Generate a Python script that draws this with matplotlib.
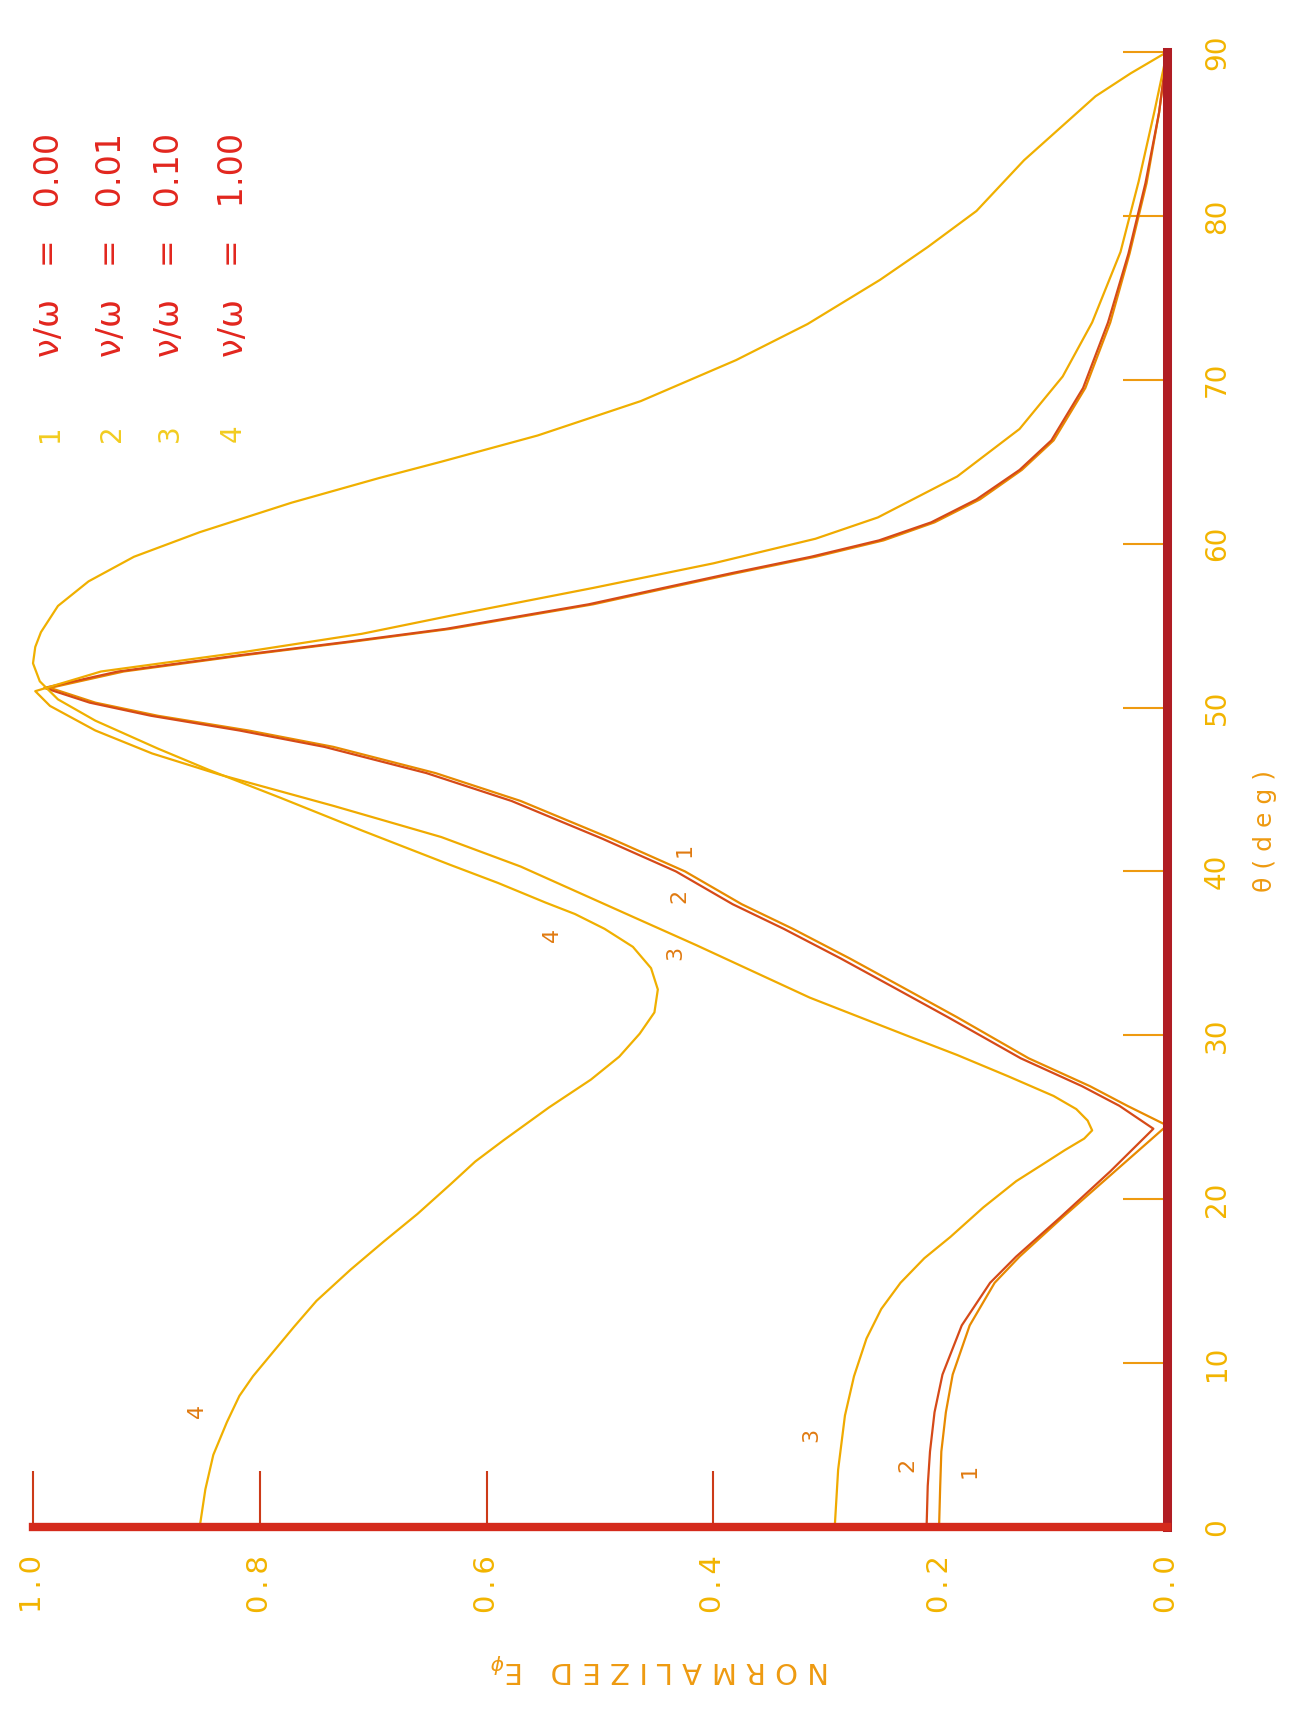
import matplotlib.pyplot as plt

# curvas: theta (deg) y E normalizado
theta_1 = [0, 2.5, 4.6, 7.0, 9.3, 12.3, 14.9, 16.5, 18.9, 21.7, 24.5, 25.7, 26.9, 28.6, 31.1,
           33.0, 34.7, 36.5, 38.0, 40.0, 42.0, 44.3, 46.0, 47.6, 48.6, 49.5, 50.3, 51.2, 52.2, 53.2,
           54.0, 54.8, 56.3, 57.3, 58.2, 59.2, 60.2, 61.3, 62.7, 64.5, 66.3, 69.5, 73.5, 77.7, 82.0,
           86.3, 90.0]
e_1 = [0.201, 0.2, 0.199, 0.195, 0.189, 0.174, 0.152, 0.13, 0.092, 0.046, 0.0, 0.035, 0.068, 0.122, 0.185,
       0.235, 0.28, 0.33, 0.375, 0.425, 0.49, 0.57, 0.645, 0.735, 0.81, 0.89, 0.945, 0.985, 0.92, 0.813,
       0.72, 0.632, 0.506, 0.44, 0.38, 0.31, 0.25, 0.205, 0.165, 0.128, 0.1, 0.072, 0.05, 0.033, 0.018,
       0.007, 0.0]

theta_2 = [0, 2.5, 4.6, 7.0, 9.3, 12.3, 14.9, 16.5, 18.9, 21.7, 24.3, 25.7, 26.9, 28.6, 31.1,
           33.0, 34.7, 36.5, 38.0, 40.0, 42.0, 44.3, 46.0, 47.6, 48.6, 49.5, 50.3, 51.2, 52.2, 53.2,
           54.0, 54.8, 56.3, 57.3, 58.2, 59.2, 60.2, 61.3, 62.7, 64.5, 66.3, 69.5, 73.5, 77.7, 82.0,
           86.3, 90.0]
e_2 = [0.212, 0.211, 0.209, 0.205, 0.198, 0.181, 0.156, 0.133, 0.094, 0.05, 0.012, 0.042, 0.075, 0.129, 0.193,
       0.243, 0.288, 0.338, 0.383, 0.433, 0.498, 0.578, 0.653, 0.743, 0.818, 0.896, 0.95, 0.99, 0.925, 0.817,
       0.724, 0.636, 0.51, 0.444, 0.384, 0.314, 0.254, 0.208, 0.168, 0.13, 0.102, 0.074, 0.052, 0.034, 0.019,
       0.007, 0.0]

theta_3 = [0, 3.5, 6.8, 9.2, 11.5, 13.3, 14.9, 16.4, 17.7, 19.5, 21.1, 22.2, 23.0, 23.7, 24.2, 24.8,
           25.5, 26.3, 27.5, 28.8, 30.0, 32.3, 35.5, 37.2, 40.3, 42.1, 44.0, 45.9, 47.2, 48.6, 50.1, 51.0,
           52.2, 53.4, 54.5, 55.6, 57.3, 58.8, 60.3, 61.6, 64.1, 67.0, 70.2, 73.5, 77.8, 82.1, 86.4, 90.0]
e_3 = [0.293, 0.29, 0.284, 0.276, 0.265, 0.252, 0.235, 0.214, 0.191, 0.162, 0.133, 0.108, 0.09, 0.073, 0.066, 0.07,
       0.08, 0.1, 0.14, 0.185, 0.23, 0.315, 0.415, 0.47, 0.57, 0.64, 0.735, 0.835, 0.895, 0.945, 0.985, 0.998,
       0.94, 0.813, 0.71, 0.632, 0.506, 0.40, 0.31, 0.255, 0.185, 0.13, 0.092, 0.066, 0.041, 0.025, 0.011, 0.0]

theta_4 = [0, 2.3, 4.4, 6.4, 8.0, 9.2, 10.7, 12.2, 13.8, 15.7, 17.4, 19.1, 20.9, 22.3, 23.6, 25.6, 27.3,
           28.7, 30.1, 31.4, 32.8, 34.1, 35.4, 36.5, 37.4, 38.1, 39.3, 40.4, 42.5, 44.5, 46.2, 47.5, 49.2,
           50.5, 51.6, 52.7, 53.7, 54.6, 56.2, 57.7, 59.2, 60.7, 62.5, 64.0, 65.0, 66.6, 68.7, 71.2, 73.4,
           76.1, 78.1, 80.3, 83.4, 86.0, 87.3, 88.7, 90.0]
e_4 = [0.853, 0.848, 0.841, 0.829, 0.818, 0.806, 0.788, 0.77, 0.75, 0.72, 0.691, 0.661, 0.632, 0.61, 0.585, 0.545,
       0.508, 0.483, 0.465, 0.452, 0.449, 0.455, 0.471, 0.496, 0.522, 0.548, 0.59, 0.632, 0.71, 0.782, 0.845, 0.89,
       0.945, 0.978, 0.994, 1.0, 0.998, 0.993, 0.978, 0.951, 0.911, 0.853, 0.772, 0.695, 0.64, 0.555, 0.464, 0.38,
       0.317, 0.253, 0.211, 0.168, 0.126, 0.084, 0.063, 0.032, 0.0]

leyenda = ["ν/ω   =   0.00", "ν/ω   =   0.01", "ν/ω   =   0.10", "ν/ω   =   1.00"]
numeros = ["1", "2", "3", "4"]

e_ticks = [1.0, 0.8, 0.6, 0.4, 0.2, 0.0]
e_labels = ["1\u2009.\u20090", "0\u2009.\u20098", "0\u2009.\u20096", "0\u2009.\u20094", "0\u2009.\u20092", "0\u2009.\u20090"]
theta_ticks = [0, 10, 20, 30, 40, 50, 60, 70, 80, 90]
theta_labels = ["0", "10", "20", "30", "40", "50", "60", "70", "80", "90"]

W, H = 1301, 1710
ROJO = "#d42a1c"
ROJO_OSC = "#b01d24"
NARANJA = "#ee9a10"
AMARILLO = "#f2b400"

fig = plt.figure(figsize=(W / 100, H / 100), dpi=100)
fig.patch.set_facecolor("white")
ax = fig.add_axes([33 / W, 1 - 1527 / H, (1167 - 33) / W, (1527 - 52) / H])

estilo = dict(lw=1.6, clip_on=False, solid_joinstyle="round", solid_capstyle="round")
ax.plot(e_1, theta_1, color="#e88a00", **estilo)
ax.plot(e_2, theta_2, color="#d64a18", **estilo)
ax.plot(e_3, theta_3, color="#f0aa00", **estilo)
ax.plot(e_4, theta_4, color="#f0b000", **estilo)

ax.set_xlim(1.0, 0.0)
ax.set_ylim(0, 90)

for s in ["left", "top"]:
    ax.spines[s].set_visible(False)
ax.spines["bottom"].set_color(ROJO)
ax.spines["bottom"].set_linewidth(6)
ax.spines["right"].set_color(ROJO_OSC)
ax.spines["right"].set_linewidth(6.5)

ax.set_xticks(e_ticks)
ax.set_xticklabels(e_labels, rotation=90, va="top", ha="center")
ax.tick_params(axis="x", direction="in", length=40, width=1.5, color="#cc3a18",
               labelcolor=AMARILLO, labelsize=21, pad=20)
for t in ax.xaxis.get_major_ticks()[4:]:
    t.tick1line.set_visible(False)

ax.yaxis.tick_right()
ax.set_yticks(theta_ticks)
ax.set_yticklabels(theta_labels, rotation=90, va="center", ha="left")
ax.tick_params(axis="y", direction="in", length=32, width=1.5, color=NARANJA,
               labelcolor=AMARILLO, labelsize=20, pad=26)
ax.yaxis.get_major_ticks()[0].tick2line.set_visible(False)

# etiquetas de las curvas
etq = [("4", 0.855, 7.1), ("3", 0.314, 5.6), ("2", 0.229, 3.8), ("1", 0.174, 3.4),
       ("4", 0.542, 36.1), ("3", 0.434, 35.0), ("2", 0.43, 38.5), ("1", 0.425, 41.3)]
for txt, x, y in etq:
    ax.text(x, y, txt, rotation=90, ha="center", va="center", fontsize=16, color="#e07a10")

# leyenda
for i, x in enumerate([50, 112, 170, 233]):
    fig.text(x / W, 1 - 433 / H, numeros[i], rotation=90, ha="center", va="center",
             fontsize=20, color="#f2cc20")
    fig.text(x / W, 1 - 357 / H, leyenda[i], rotation=90, rotation_mode="anchor",
             ha="left", va="center", fontsize=24, color="#e2261e")

fig.text(1265 / W, 1 - 831 / H, "θ ( d e g )", rotation=90, ha="center", va="center",
         fontsize=18, color=NARANJA)
fig.text(660 / W, 1 - 1668 / H, "N O R M A L I Z E D   E$_{\\phi}$", rotation=180,
         ha="center", va="center", fontsize=21, color=NARANJA)

fig.savefig("out.png", dpi=100, facecolor="white")
